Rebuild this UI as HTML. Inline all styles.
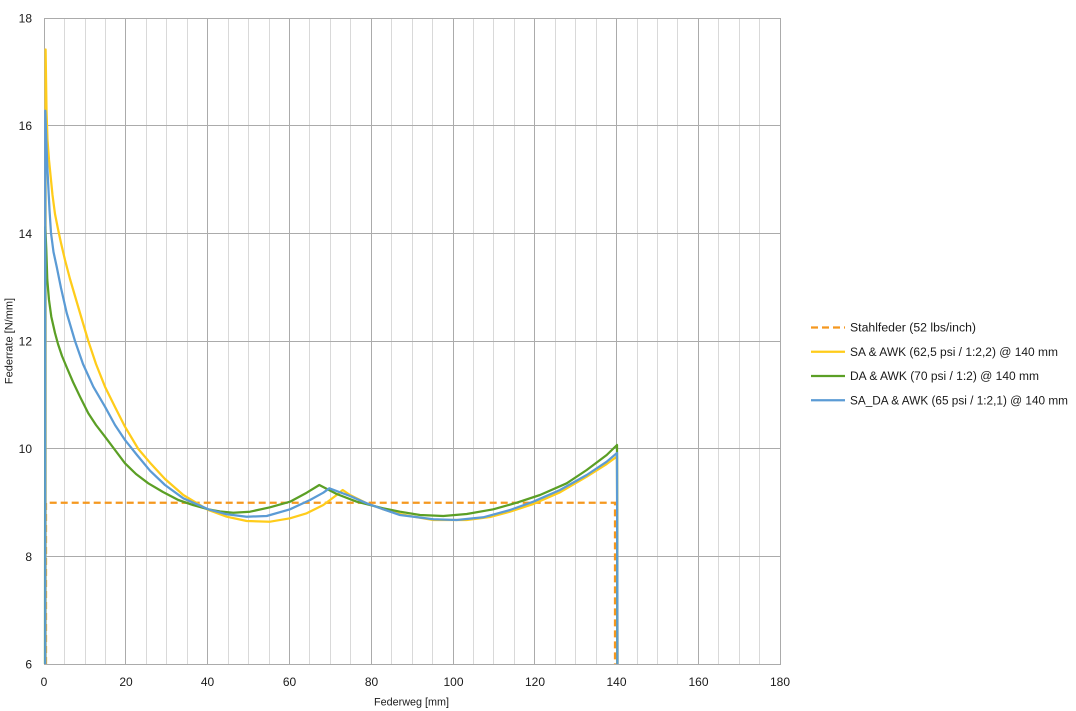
<!DOCTYPE html>
<html>
<head>
<meta charset="utf-8">
<style>
html,body{margin:0;padding:0;background:#fff;}
svg{display:block;}
text{font-family:"Liberation Sans",Arial,sans-serif;fill:#1a1a1a;}
</style>
</head>
<body>
<svg width="1076" height="711" viewBox="0 0 1076 711" xmlns="http://www.w3.org/2000/svg">
<rect x="0" y="0" width="1076" height="711" fill="#fff"/>
<!-- minor vertical gridlines -->
<g stroke="#D9D9D9" stroke-width="1">
<line x1="64.5" y1="18" x2="64.5" y2="664"/>
<line x1="85.5" y1="18" x2="85.5" y2="664"/>
<line x1="105.5" y1="18" x2="105.5" y2="664"/>
<line x1="146.5" y1="18" x2="146.5" y2="664"/>
<line x1="166.5" y1="18" x2="166.5" y2="664"/>
<line x1="187.5" y1="18" x2="187.5" y2="664"/>
<line x1="228.5" y1="18" x2="228.5" y2="664"/>
<line x1="248.5" y1="18" x2="248.5" y2="664"/>
<line x1="269.5" y1="18" x2="269.5" y2="664"/>
<line x1="309.5" y1="18" x2="309.5" y2="664"/>
<line x1="330.5" y1="18" x2="330.5" y2="664"/>
<line x1="350.5" y1="18" x2="350.5" y2="664"/>
<line x1="391.5" y1="18" x2="391.5" y2="664"/>
<line x1="412.5" y1="18" x2="412.5" y2="664"/>
<line x1="432.5" y1="18" x2="432.5" y2="664"/>
<line x1="473.5" y1="18" x2="473.5" y2="664"/>
<line x1="493.5" y1="18" x2="493.5" y2="664"/>
<line x1="514.5" y1="18" x2="514.5" y2="664"/>
<line x1="555.5" y1="18" x2="555.5" y2="664"/>
<line x1="575.5" y1="18" x2="575.5" y2="664"/>
<line x1="596.5" y1="18" x2="596.5" y2="664"/>
<line x1="637.5" y1="18" x2="637.5" y2="664"/>
<line x1="657.5" y1="18" x2="657.5" y2="664"/>
<line x1="677.5" y1="18" x2="677.5" y2="664"/>
<line x1="718.5" y1="18" x2="718.5" y2="664"/>
<line x1="739.5" y1="18" x2="739.5" y2="664"/>
<line x1="759.5" y1="18" x2="759.5" y2="664"/>
</g>
<!-- major gridlines -->
<g stroke="#ABABAB" stroke-width="1">
<line x1="125.5" y1="18" x2="125.5" y2="664"/>
<line x1="207.5" y1="18" x2="207.5" y2="664"/>
<line x1="289.5" y1="18" x2="289.5" y2="664"/>
<line x1="371.5" y1="18" x2="371.5" y2="664"/>
<line x1="453.5" y1="18" x2="453.5" y2="664"/>
<line x1="534.5" y1="18" x2="534.5" y2="664"/>
<line x1="616.5" y1="18" x2="616.5" y2="664"/>
<line x1="698.5" y1="18" x2="698.5" y2="664"/>
<line x1="780.5" y1="18" x2="780.5" y2="664"/>
<line x1="44" y1="18.5" x2="781" y2="18.5"/>
<line x1="44" y1="125.5" x2="781" y2="125.5"/>
<line x1="44" y1="233.5" x2="781" y2="233.5"/>
<line x1="44" y1="341.5" x2="781" y2="341.5"/>
<line x1="44" y1="448.5" x2="781" y2="448.5"/>
<line x1="44" y1="556.5" x2="781" y2="556.5"/>
<line x1="44" y1="664.5" x2="781" y2="664.5"/>
<line x1="44.5" y1="18" x2="44.5" y2="665"/>
</g>

<!-- Steel spring dashed -->
<polyline fill="none" stroke="#F5981F" stroke-width="2.25" stroke-dasharray="7,4" points="46,664 46,502.7 615,502.7 615,664"/>

<!-- Yellow SA & AWK -->
<polyline fill="none" stroke="#FFCC1A" stroke-width="2.25" stroke-linejoin="round" points="45.6,664 45.6,49.5 46.5,110 47.5,140 49,160 50.5,175 52.5,195 55,214 58,229 61,243 65,260 70,279 75,296 80,313 88.3,341 96,364 105,386.7 115,407 125,426.7 138.3,449 150,462.7 165,479 183.3,495 208.3,510 226.7,516.7 246.7,521 270,521.7 290,518.3 306.7,513.3 323.3,505 336.7,495 342.7,490 350,495 366.7,503.3 383.3,509.3 400,514 410,516 433.3,520 466.7,520 490,517 510,511.7 533.3,504 560,492.3 586.7,476.7 606.7,464 617,456.5 617.6,664"/>

<!-- Green DA & AWK -->
<polyline fill="none" stroke="#5B9F25" stroke-width="2.25" stroke-linejoin="round" points="45,664 45.3,227 46.3,250 47.3,280 49,300 51.3,316.7 55,333 58,344 62,356 67,368 73,382 80,396.7 88.3,413.3 96,425 105,436.7 115,450 125,463.3 136,474 148.3,483.3 163,492 178.3,500 193,505 208.3,509.3 220,511.5 233.3,512.7 250,511.7 270,507.3 290,501.7 306.7,492.7 319.3,485 336.7,494 356.7,501.7 383.3,508.3 400,511.7 420,515 443.3,516 466.7,514 493.3,509.3 516.7,502.7 540,495 566.7,483.3 586.7,470 606.7,455 617,445 617.4,664"/>

<!-- Blue SA_DA & AWK -->
<polyline fill="none" stroke="#5B9BD5" stroke-width="2.25" stroke-linejoin="round" points="45.3,664 45.3,110.7 46.3,140 47.3,166.7 48.5,190 49.5,210 51,233 53.5,252 56.7,266.7 61,288 66.7,313 75,341 83,364 93.3,386.7 105,406.7 115,425 125,440 137,455 150,470.7 165,485 183.3,498.3 208.3,509.3 226.7,514.3 246.7,516.7 266.7,516 290,509.3 310,500 323.3,492.7 329.3,488.3 350,496 366.7,503.3 383.3,509.3 400,515 433.3,519.3 456.7,520 483.3,517.3 510,510 533.3,501.7 560,490 586.7,475 606.7,461.7 617,453 617.5,664"/>

<!-- Y tick labels -->
<g font-size="12" text-anchor="end">
<text x="32" y="22.5">18</text>
<text x="32" y="130">16</text>
<text x="32" y="238">14</text>
<text x="32" y="345.5">12</text>
<text x="32" y="453">10</text>
<text x="32" y="561">8</text>
<text x="32" y="668.5">6</text>
</g>
<!-- X tick labels -->
<g font-size="12" text-anchor="middle">
<text x="44" y="686">0</text>
<text x="126" y="686">20</text>
<text x="207.5" y="686">40</text>
<text x="289.5" y="686">60</text>
<text x="371.5" y="686">80</text>
<text x="453.5" y="686">100</text>
<text x="535" y="686">120</text>
<text x="616.5" y="686">140</text>
<text x="698.5" y="686">160</text>
<text x="780" y="686">180</text>
</g>
<!-- Axis titles -->
<text x="374" y="705.5" font-size="11" textLength="75" lengthAdjust="spacingAndGlyphs">Federweg [mm]</text>
<text transform="translate(12.5,341) rotate(-90)" font-size="11" text-anchor="middle">Federrate [N/mm]</text>

<!-- Legend -->
<line x1="811" y1="327.5" x2="845" y2="327.5" stroke="#F5981F" stroke-width="2.25" stroke-dasharray="7,4"/>
<line x1="811" y1="351.8" x2="845" y2="351.8" stroke="#FFCC1A" stroke-width="2.25"/>
<line x1="811" y1="376" x2="845" y2="376" stroke="#5B9F25" stroke-width="2.25"/>
<line x1="811" y1="400.3" x2="845" y2="400.3" stroke="#5B9BD5" stroke-width="2.25"/>
<g font-size="11.5">
<text x="850" y="331.5" textLength="126" lengthAdjust="spacingAndGlyphs">Stahlfeder (52 lbs/inch)</text>
<text x="850" y="355.8" textLength="208" lengthAdjust="spacingAndGlyphs">SA &amp; AWK (62,5 psi / 1:2,2) @ 140 mm</text>
<text x="850" y="380" textLength="189" lengthAdjust="spacingAndGlyphs">DA &amp; AWK (70 psi / 1:2) @ 140 mm</text>
<text x="850" y="404.3" textLength="218" lengthAdjust="spacingAndGlyphs">SA_DA &amp; AWK (65 psi / 1:2,1) @ 140 mm</text>
</g>
</svg>
</body>
</html>
